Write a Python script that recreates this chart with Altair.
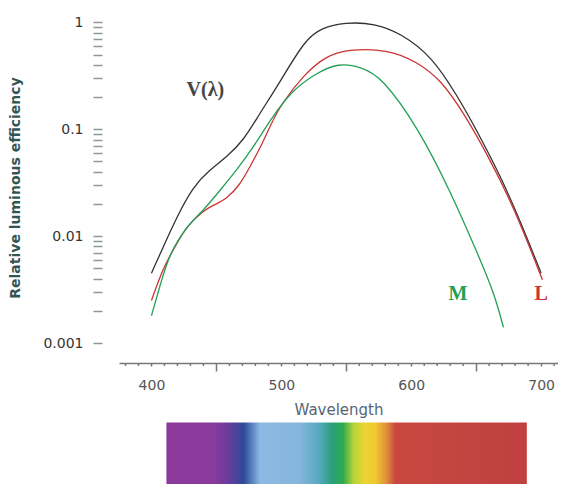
import altair as alt
import pandas as pd

# ---- data ----
v_wl = [400, 409, 419.5, 432, 445, 458, 471, 482, 500, 518, 531, 549, 572, 592, 616, 636, 649, 669.5, 684.6, 700]
v_val = [0.0045, 0.0079, 0.0151, 0.029, 0.042, 0.055, 0.079, 0.132, 0.29, 0.68, 0.89, 1.0, 0.98, 0.79, 0.48, 0.20, 0.105, 0.035, 0.0132, 0.0045]

l_wl = [400, 409, 419.5, 427, 440, 448, 458, 468, 476, 484, 491, 500, 518, 534, 551, 582, 604, 623, 641, 659, 680, 701]
l_val = [0.0025, 0.0051, 0.0085, 0.0123, 0.0174, 0.0195, 0.0224, 0.030, 0.045, 0.068, 0.105, 0.174, 0.33, 0.48, 0.56, 0.56, 0.43, 0.29, 0.138, 0.057, 0.0176, 0.0039]

m_wl = [400, 407, 414, 427, 440, 453, 466, 478.5, 491, 508, 526, 544, 562, 577, 605, 631, 651, 664, 671]
m_val = [0.0018, 0.0036, 0.0069, 0.0123, 0.0174, 0.027, 0.042, 0.068, 0.12, 0.23, 0.33, 0.42, 0.38, 0.31, 0.105, 0.025, 0.0069, 0.0029, 0.0014]

curve_names = ["V", "L", "M"]
curve_colors = ["#333333", "#cc3333", "#22a055"]

label_texts = ["V(λ)", "M", "L"]
label_wl = [441.5, 636, 700]
label_val = [0.235, 0.0029, 0.0029]
label_colors = ["#444444", "#22a055", "#cc3333"]

x_ticks = [400, 450, 500, 550, 600, 650, 700]
x_minor = [380, 390, 410, 420, 430, 440, 460, 470, 480, 490, 510, 520, 530, 540,
           560, 570, 580, 590, 610, 620, 630, 640, 660, 670, 680, 690, 710]
y_ticks = [0.001, 0.002, 0.003, 0.004, 0.005, 0.006, 0.007, 0.008, 0.009,
           0.01, 0.02, 0.03, 0.04, 0.05, 0.06, 0.07, 0.08, 0.09,
           0.1, 0.2, 0.3, 0.4, 0.5, 0.6, 0.7, 0.8, 0.9, 1]

spectrum_start = [411.5]
spectrum_end = [689]
spectrum_stops = [(0.0, "#8b3a9c"), (0.13, "#8a3a9c"), (0.17, "#6a3c9c"), (0.215, "#2c4b9b"),
                  (0.26, "#8cb9e1"), (0.37, "#86b6dc"), (0.42, "#5aaac4"), (0.46, "#2aa07a"),
                  (0.49, "#2eaa4e"), (0.52, "#b8d438"), (0.55, "#ecd431"), (0.58, "#efc832"),
                  (0.61, "#e0903c"), (0.635, "#c84840"), (1.0, "#c04040")]

# ---- build tables ----
rows = []
for name, wl, val in [("V", v_wl, v_val), ("L", l_wl, l_val), ("M", m_wl, m_val)]:
    for w, v in zip(wl, val):
        rows.append({"curve": name, "wl": w, "val": v})
df = pd.DataFrame(rows)

lab = pd.DataFrame({"text": label_texts, "wl": label_wl, "val": label_val, "color": label_colors})
spec = pd.DataFrame({"x1": spectrum_start, "x2": spectrum_end})
minor = pd.DataFrame({"wl": x_minor})

xscale = alt.Scale(domain=[375, 713], nice=False, zero=False)
yscale = alt.Scale(type="log", domain=[0.00065, 1.25], nice=False)

x_axis = alt.Axis(
    title="Wavelength", values=x_ticks,
    labelExpr="datum.value % 100 == 0 ? datum.label : ''",
    labelOverlap=False,
    tickSize={"expr": "datum.value % 100 == 50 ? 8 : 3"},
    tickColor="#777777", tickWidth=1.5, domainColor="#777777", domainWidth=1.5,
    labelFont="DejaVu Sans", labelFontSize=14, labelColor="#555555", labelPadding=12,
    titleFont="DejaVu Sans", titleFontSize=15, titleFontWeight="normal",
    titleColor="#556677", titlePadding=5, grid=False, labelFlush=False,
)
y_axis = alt.Axis(
    title="Relative luminous efficiency", values=y_ticks,
    labelExpr="(datum.value == 1 || datum.value == 0.1 || datum.value == 0.01 || datum.value == 0.001) ? datum.label : ''",
    labelOverlap=False,
    format=".3~f", domain=False, offset=17, tickSize=9, tickWidth=1.5, tickColor="#8a9a90",
    labelFont="DejaVu Sans", labelFontSize=14, labelColor="#333333", labelPadding=10,
    titleFont="DejaVu Sans", titleFontSize=14, titleFontWeight="bold",
    titleColor="#335555", titlePadding=20, grid=False,
)

lines = alt.Chart(df).mark_line(interpolate="basis", strokeWidth=1.3).encode(
    x=alt.X("wl:Q", scale=xscale, axis=x_axis),
    y=alt.Y("val:Q", scale=yscale, axis=y_axis),
    color=alt.Color("curve:N", scale=alt.Scale(domain=curve_names, range=curve_colors), legend=None),
    detail="curve:N",
)

minor_ticks = alt.Chart(minor).mark_rule(color="#777777", strokeWidth=1.5, clip=False).encode(
    x=alt.X("wl:Q", scale=xscale),
    y=alt.value(351),
    y2=alt.value(354),
)

texts = alt.Chart(lab).mark_text(font="Liberation Serif", fontSize=20, fontWeight="bold").encode(
    x=alt.X("wl:Q", scale=xscale),
    y=alt.Y("val:Q", scale=yscale),
    text="text:N",
    color=alt.Color("color:N", scale=None),
)

spectrum = alt.Chart(spec).mark_rect(
    clip=False,
    color=alt.Gradient(
        gradient="linear", x1=0, x2=1, y1=0, y2=0,
        stops=[alt.GradientStop(offset=o, color=c) for o, c in spectrum_stops],
    ),
).encode(
    x=alt.X("x1:Q", scale=xscale),
    x2="x2:Q",
    y=alt.value(410.5),
    y2=alt.value(472),
)

chart = alt.layer(lines, minor_ticks, texts, spectrum).properties(
    width=439, height=351,
    padding={"left": 0, "top": 4, "right": 0, "bottom": 0},
).configure_view(stroke=None)

chart.save("out.html", embed_options={"renderer": "svg", "actions": False})
